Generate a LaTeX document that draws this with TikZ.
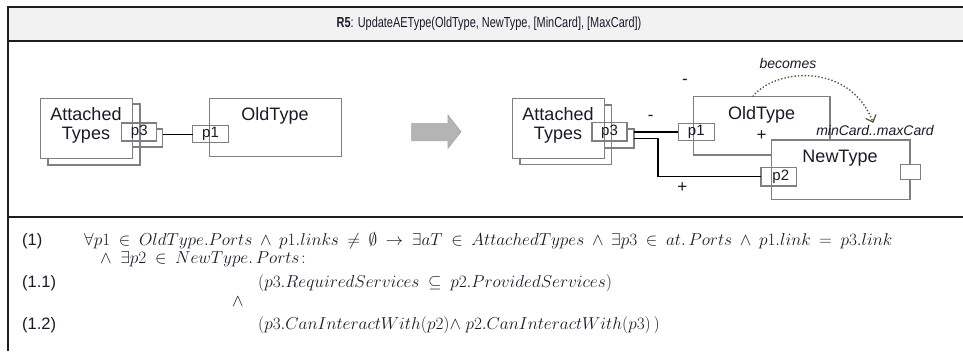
\documentclass[tikz,border=0pt]{standalone}
\usepackage{amsmath,amssymb}
\usepackage[no-math]{fontspec}
\setmainfont{Liberation Sans}
\usetikzlibrary{arrows.meta}

\definecolor{framec}{HTML}{1E1E1E}
\definecolor{headfill}{HTML}{F2F2F2}
\definecolor{boxgray}{HTML}{7F7F7F}
\definecolor{inkc}{HTML}{1A1A2A}
\definecolor{becomesc}{HTML}{5A5A40}
\definecolor{blockarrow}{HTML}{B4B4B4}

\tikzset{
  frameline/.style={draw=framec, line width=2pt},
  compbox/.style={draw=boxgray, fill=white, line width=1.3pt, inner sep=0pt, outer sep=0pt},
  compedge/.style={draw=boxgray, line width=1.3pt},
  portbox/.style={compbox},
  link/.style={draw=black, line width=1.3pt},
  boxtext/.style={font=\fontsize{18}{20}\selectfont, text=inkc, inner sep=0pt},
  porttext/.style={font=\fontsize{15}{16}\selectfont, text=inkc, inner sep=0pt},
  signtext/.style={font=\fontsize{17}{18}\selectfont, text=inkc, inner sep=0pt},
  notetext/.style={font=\fontsize{14}{15}\selectfont\itshape, text=inkc, inner sep=0pt},
  rowlabel/.style={font=\fontsize{16.5}{17}\selectfont, text=inkc, inner sep=0pt, anchor=base west},
  formula/.style={font=\fontsize{16}{17}\selectfont, text=inkc, inner sep=0pt, anchor=base west,
    execute at begin node={\thickmuskip=9mu plus 2mu\medmuskip=8mu plus 2mu}},
}

\begin{document}
\begin{tikzpicture}[x=1pt, y=-1pt]
\useasboundingbox (0,0) rectangle (963,351);

% frame: title strip, diagram area, constraint area
\fill[headfill] (8,7) rectangle (963,41);
\draw[frameline] (963,7) -- (8,7) -- (8,351);
\draw[frameline] (8,41) -- (963,41);
\draw[frameline] (8,217) -- (963,217);
\node[font=\fontsize{14.5}{16}\selectfont, text=inkc, inner sep=0pt] (title) at (489,24)
  {\scalebox{0.755}[1]{\textbf{R5}: UpdateAEType(OldType, NewType, [MinCard], [MaxCard])}};

% ---------- before: attached types linked to OldType ----------
\node[compbox, minimum width=92pt, minimum height=61pt] (atBackL) at (94,134.5) {};
\node[portbox, minimum width=35pt, minimum height=18pt] (p3BackL) at (145.3,138) {};
\node[compbox, minimum width=92pt, minimum height=60pt] (atL) at (86.7,128.3) {};
\node[portbox, minimum width=35pt, minimum height=18pt] (p3L) at (139.3,132) {};
\draw[compedge] (atBackL.north east) -- (atBackL.south east);
\draw[compedge] (atL.north east) -- (atL.south east);
\node[boxtext, align=center] (atLtext) at (86,125) {Attached\\[-1pt]Types};
\node[porttext] at (p3L.center) {p3};

\node[compbox, minimum width=132.4pt, minimum height=58.4pt] (oldL) at (275.5,127.5) {};
\node[portbox, minimum width=35.6pt, minimum height=17pt] (p1L) at (210.5,134.2) {};
\draw[compedge] (oldL.north west) -- (oldL.south west);
\node[boxtext] (oldLtext) at (275,116) {OldType};
\node[porttext] at (p1L.center) {p1};

\draw[link] (p3BackL.east |- p1L.west) -- (p1L.west);

% transformation arrow
\filldraw[fill=blockarrow, draw=boxgray!70, line width=0.6pt]
  (411.7,123.3) -- (448,123.3) -- (448,115) -- (461,131.7) -- (448,148.3)
  -- (448,140.7) -- (411.7,140.7) -- cycle;

% ---------- after: ports relinked to NewType ----------
\node[compbox, minimum width=91.7pt, minimum height=59.3pt] (atBackR) at (565.8,134.6) {};
\node[portbox, minimum width=35pt, minimum height=19pt] (p3BackR) at (616.5,138.5) {};
\node[compbox, minimum width=92.2pt, minimum height=60pt] (atR) at (558.4,128.3) {};
\node[portbox, minimum width=35pt, minimum height=18.5pt] (p3R) at (609.5,131.8) {};
\draw[compedge] (atBackR.north east) -- (atBackR.south east);
\draw[compedge] (atR.north east) -- (atR.south east);
\node[boxtext, align=center] (atRtext) at (558,125) {Attached\\[-1pt]Types};
\node[porttext] at (p3R.center) {p3};

\node[compbox, minimum width=136.7pt, minimum height=58.3pt] (oldR) at (761.7,125.8) {};
\node[portbox, minimum width=36pt, minimum height=17pt] (p1R) at (696.3,132) {};
\draw[compedge] (oldR.north west) -- (oldR.south west);
\node[boxtext] (oldRtext) at (761.7,114.5) {OldType};
\node[porttext] at (p1R.center) {p1};

\node[compbox, minimum width=138.3pt, minimum height=59.3pt] (newR) at (840.8,169.7) {};
\node[portbox, minimum width=35.7pt, minimum height=18.7pt] (p2R) at (778.8,176.7) {};
\node[portbox, minimum width=20pt, minimum height=15pt] (pxR) at (910.7,171.8) {};
\draw[compedge] (newR.north west) -- (newR.south west);
\node[boxtext] (newRtext) at (840,158.5) {NewType};
\node[porttext] at ([xshift=2pt]p2R.center) {p2};

\draw[link] (p3BackR.east |- p1R.west) -- (p1R.west);
\draw[link] (p3BackR.east) -- ++(24,0) |- (p2R.west);

\node[signtext] (minusTop) at (685,82) {-};
\node[signtext] (minusLink) at (650.7,117.5) {-};
\node[signtext] (plusOld) at (761.7,136) {+};
\node[signtext] (plusLink) at (682.3,187.5) {+};

\node[notetext] (card) at (875,130) {minCard..maxCard};
\node[notetext] (becomes) at (788,63) {becomes};
\coordinate (becomesEnd) at (873.3,123);
\draw[becomesc, line width=1.4pt, dotted, -{Straight Barb[length=6pt, width=11pt, line width=1.3pt]}]
  (oldR.north -| 752.7,0) .. controls (775,68) and (850,62) .. (becomesEnd);

% ---------- constraint ----------
\node[rowlabel] (r1) at (22,245) {(1)};
\node[formula] (f1) at (84,245)
  {$\forall p1\in OldType.Ports\wedge p1.links\neq\emptyset\rightarrow\exists aT\in AttachedTypes\wedge\exists p3\in at.\,Ports\wedge p1.link=p3.link$};
\node[formula] (f1b) at (100,263)
  {$\wedge\;\exists p2\in NewType.\,Ports\colon$};
\node[rowlabel] (r11) at (22,287) {(1.1)};
\node[formula] (f11) at (258,287)
  {$(p3.RequiredServices\subseteq p2.ProvidedServices)$};
\node[formula] (fand) at (232,306) {$\wedge$};
\node[rowlabel] (r12) at (22,329) {(1.2)};
\node[formula] (f12) at (258,329)
  {$(p3.CanInteractWith(p2){\wedge}\ p2.CanInteractWith(p3)\,)$};
\end{tikzpicture}
\end{document}
